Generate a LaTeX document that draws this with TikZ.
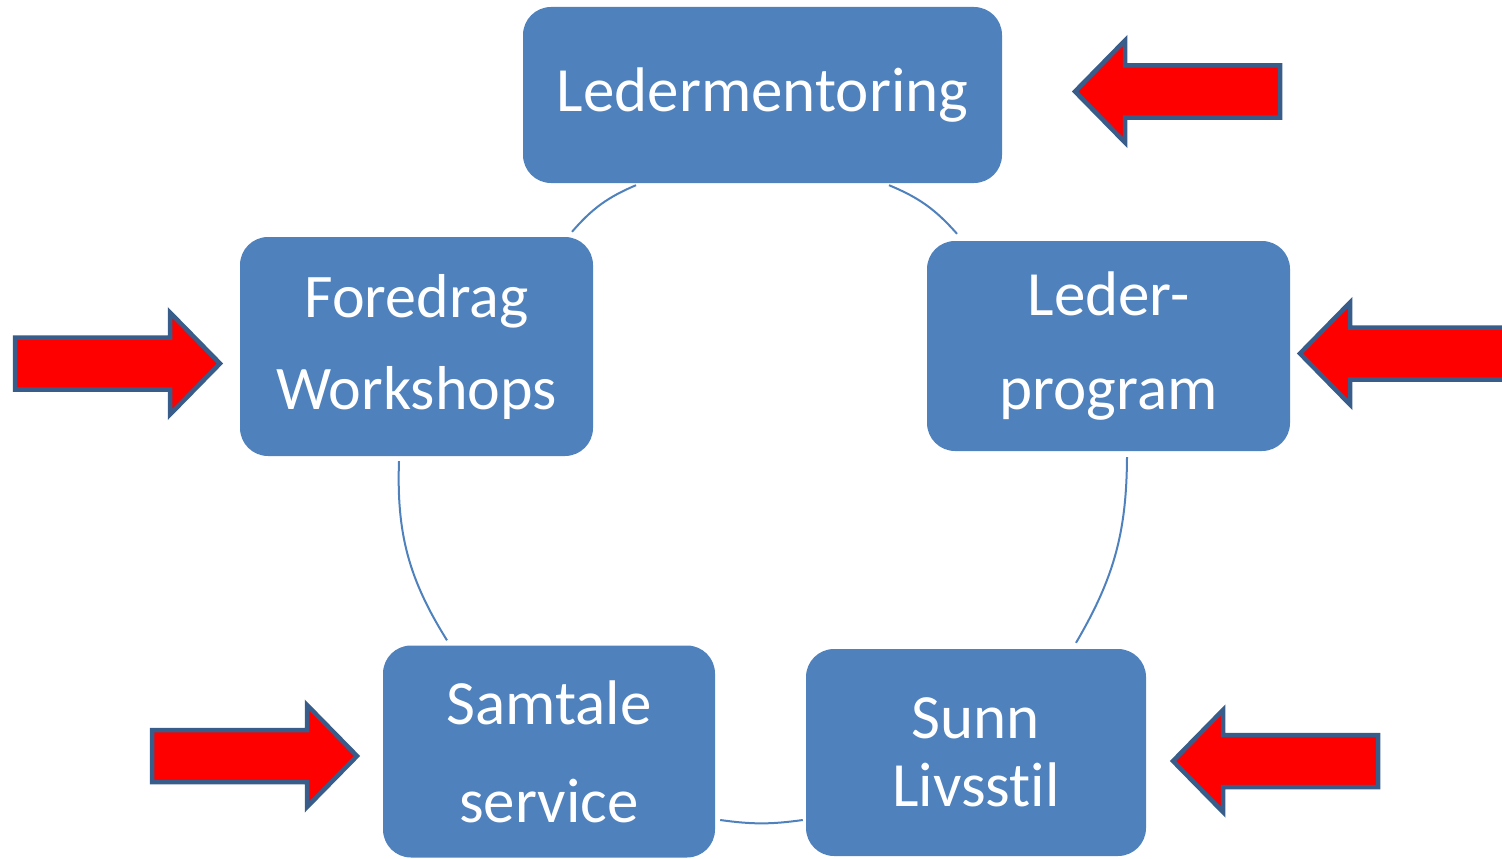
\documentclass[tikz,border=0pt]{standalone}
\usepackage{fontspec}
\setmainfont[Ligatures={NoCommon,NoRare,NoContextual}]{Carlito}
\definecolor{boxblue}{HTML}{4F81BD}
\definecolor{edgeblue}{HTML}{385D8A}

\begin{document}
\begin{tikzpicture}[x=1pt, y=-1pt,
    box/.style={fill=boxblue, rectangle, rounded corners=28pt, inner sep=0pt, text=white, align=center, font=\fontsize{63}{94}\selectfont},
    link/.style={draw=boxblue, line width=2pt},
    pics/redarrow/.style={code={
        \draw[fill=red, draw=edgeblue, line width=4.5pt, line join=miter]
            (0,0) -- (-50,-51) -- (-50,-26) -- (-#1,-26) -- (-#1,26) -- (-50,26) -- (-50,51) -- cycle;
    }}
]
\useasboundingbox (0,0) rectangle (1502,859);

\node[box, minimum width=479pt, minimum height=176pt] (lm) at (762.5,95) {Ledermentoring};
\node[box, minimum width=353pt, minimum height=219pt, font=\fontsize{62}{92}\selectfont] (fw) at (416.5,346.5) {Foredrag\\Workshops};
\node[box, minimum width=363pt, minimum height=210pt] (lp) at (1108.5,346) {Leder-\\program};
\node[box, minimum width=332pt, minimum height=212pt, font=\fontsize{63}{98}\selectfont] (st) at (549,751.5) {Samtale\\service};
\node[box, minimum width=340pt, minimum height=207pt, font=\fontsize{63}{68}\selectfont] (sl) at (976,752.5) {Sunn\\Livsst\kern0pt il};

\draw[link] ([xshift=126.5pt,yshift=-2pt]lm.south) to[bend left=13] ([xshift=-151.5pt,yshift=7pt]lp.north);
\draw[link] ([xshift=18.5pt,yshift=-6pt]lp.south) to[bend left=15] ([xshift=100pt,yshift=6pt]sl.north);
\draw[link] ([xshift=-3pt,yshift=-67.5pt]sl.west) to[bend left=8] ([xshift=5pt,yshift=-68.5pt]st.east);
\draw[link] ([xshift=-102pt,yshift=5pt]st.north) to[bend left=17] ([xshift=-17.5pt,yshift=-5pt]fw.south);
\draw[link] ([xshift=155.5pt,yshift=5pt]fw.north) to[bend left=13] ([xshift=-126.5pt,yshift=-2pt]lm.south);

\pic[rotate=180] at (1075,91.5) {redarrow=205};
\pic at (220,363.5) {redarrow=205};
\pic[rotate=180] at (1300,353.5) {redarrow=205};
\pic at (357,756) {redarrow=205};
\pic[rotate=180] at (1173,761) {redarrow=205};
\end{tikzpicture}
\end{document}
